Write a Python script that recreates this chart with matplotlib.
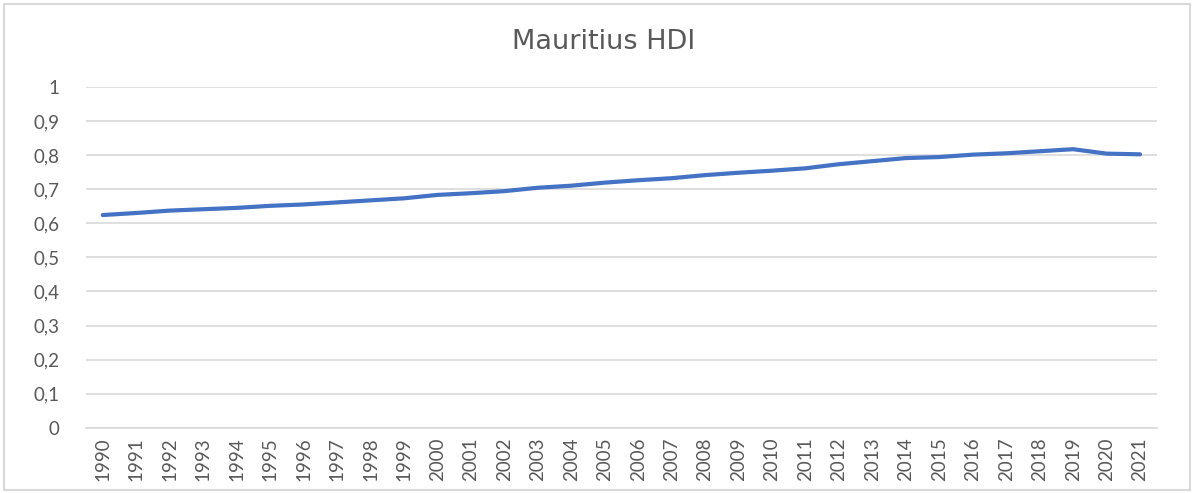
import matplotlib.pyplot as plt
from matplotlib.patches import Rectangle

# Mauritius HDI, 1990-2021
years = [str(y) for y in range(1990, 2022)]
hdi = [0.624, 0.630, 0.637, 0.641, 0.645, 0.651, 0.655, 0.661, 0.667, 0.673,
       0.683, 0.688, 0.694, 0.704, 0.710, 0.719, 0.726, 0.732, 0.741, 0.748,
       0.754, 0.761, 0.773, 0.782, 0.791, 0.794, 0.801, 0.805, 0.811, 0.817,
       0.804, 0.802]
y_ticks = [0, 0.1, 0.2, 0.3, 0.4, 0.5, 0.6, 0.7, 0.8, 0.9, 1.0]

plt.rcParams['font.family'] = ['Lato', 'DejaVu Sans']

fig = plt.figure(figsize=(11.95, 4.93), dpi=100)
ax = fig.add_axes([0.072, 0.132, 0.896, 0.692])

# chart frame
fig.patches.append(Rectangle((0.003, 0.006), 0.993, 0.985, transform=fig.transFigure,
                             fill=False, edgecolor='#D9D9D9', linewidth=1.5))

x = range(len(years))
ax.plot(x, hdi, color='#4472C4', linewidth=3, solid_capstyle='round',
        solid_joinstyle='round', zorder=3)

ax.set_xlim(-0.5, len(years) - 0.5)
ax.set_ylim(0, 1)
ax.set_yticks(y_ticks)
ax.set_yticklabels([('%g' % v).replace('.', ',') for v in y_ticks])
ax.set_xticks(list(x))
ax.set_xticklabels(years, rotation=90)

ax.grid(axis='y', color='#D9D9D9', linewidth=1.2)
ax.set_axisbelow(True)
for side in ['top', 'right', 'left']:
    ax.spines[side].set_visible(False)
ax.spines['bottom'].set_color('#D9D9D9')
ax.spines['bottom'].set_linewidth(1.2)
ax.tick_params(axis='both', length=0, colors='#595959')
ax.tick_params(axis='y', labelsize=13.5, pad=19)
ax.tick_params(axis='x', labelsize=13.5, pad=7)

fig.text(0.505, 0.915, 'Mauritius HDI', ha='center', va='center',
         fontsize=19.5, color='#595959', family='DejaVu Sans')

fig.savefig('out.png', dpi=100)
